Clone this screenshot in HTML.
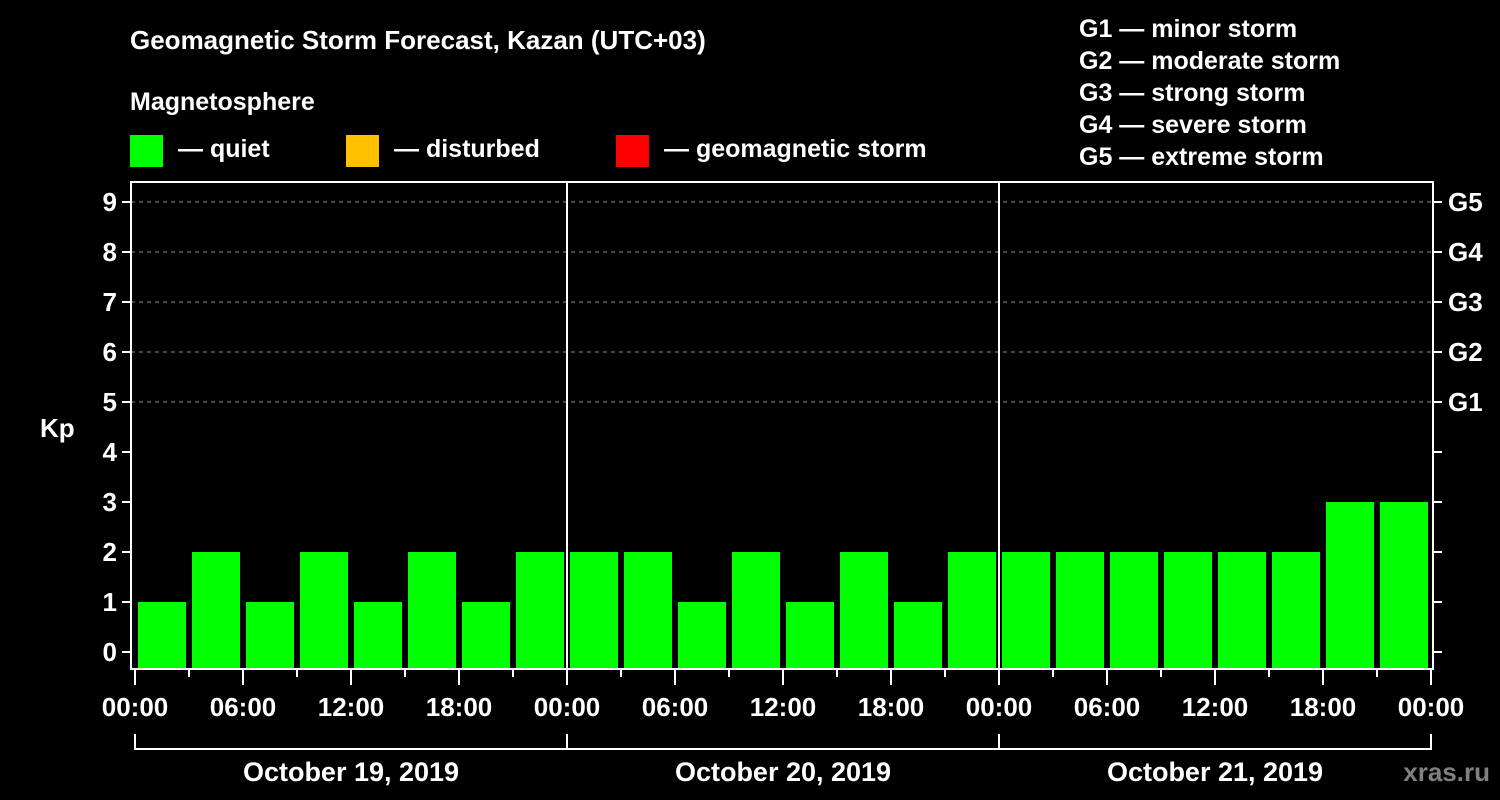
<!DOCTYPE html>
<html><head><meta charset="utf-8"><style>
html,body{margin:0;padding:0;background:#000;width:1500px;height:800px;overflow:hidden}
svg{display:block}
text{font-family:"Liberation Sans",Arial,sans-serif;font-weight:bold;fill:#fff}
</style></head><body>
<svg id="c" width="1500" height="800">
<text x="130" y="49" font-size="26">Geomagnetic Storm Forecast, Kazan (UTC+03)</text>
<text x="130" y="110" font-size="25">Magnetosphere</text>
<rect x="130" y="135" width="33" height="32" fill="#00ff00"/>
<text x="178" y="157" font-size="25">— quiet</text>
<rect x="346" y="135" width="33" height="32" fill="#ffc000"/>
<text x="394" y="157" font-size="25">— disturbed</text>
<rect x="616" y="135" width="33" height="32" fill="#ff0000"/>
<text x="664" y="157" font-size="25">— geomagnetic storm</text>
<g font-size="25">
<text x="1079" y="37">G1 — minor storm</text>
<text x="1079" y="69">G2 — moderate storm</text>
<text x="1079" y="101">G3 — strong storm</text>
<text x="1079" y="133">G4 — severe storm</text>
<text x="1079" y="165">G5 — extreme storm</text>
</g>
<text x="40" y="437" font-size="26">Kp</text>
<text x="1490" y="781" font-size="26" text-anchor="end" style="fill:#808080">xras.ru</text>
<g id="plot"></g>
</svg>
<script>
const kpValues=[1,2,1,2,1,2,1,2, 2,2,1,2,1,2,1,2, 2,2,2,2,2,2,3,3];
const dayLabels=["October 19, 2019","October 20, 2019","October 21, 2019"];
const timeLabels=["00:00","06:00","12:00","18:00"];
const gLabels=["G1","G2","G3","G4","G5"];
const yTicks=[0,1,2,3,4,5,6,7,8,9];
const X0=135,HOUR=18,Y0=652,UNIT=50,L=131,R=1433,T=182,B=669;
const xs=h=>X0+h*HOUR, ys=v=>Y0-v*UNIT;
const g=document.getElementById('plot');
const NS='http://www.w3.org/2000/svg';
function mk(t,a){const e=document.createElementNS(NS,t);for(const k in a)e.setAttribute(k,a[k]);g.appendChild(e);return e;}
// grid
for(let v=5;v<=9;v++){const e=mk('line',{x1:L,x2:R,y1:ys(v),y2:ys(v),stroke:'#888','stroke-dasharray':'4,4','stroke-width':1});

}
// bars
kpValues.forEach((v,i)=>{const x=xs(i*3)+3;const col=v>=5?'#ff0000':(v>=4?'#ffc000':'#00ff00');
const top=ys(v);const r=mk('rect',{x:x,y:top,width:48,height:B-top,fill:col});

});
// day separators
for(let d=1;d<3;d++){const e=mk('line',{x1:xs(d*24),x2:xs(d*24),y1:T,y2:B,stroke:'#fff','stroke-width':2});

}
// frame
const f=mk('rect',{x:L,y:T,width:R-L,height:B-T,fill:'none',stroke:'#fff','stroke-width':2});


// y ticks
yTicks.forEach(v=>{const y=ys(v);
const t=mk('line',{x1:L-9,x2:L,y1:y,y2:y,stroke:'#fff','stroke-width':2});


const t2=mk('line',{x1:R,x2:R+9,y1:y,y2:y,stroke:'#fff','stroke-width':2});


const tx=mk('text',{x:L-14,y:y+9,'font-size':26,'text-anchor':'end'});tx.textContent=v;

});
gLabels.forEach((s,i)=>{const tx=mk('text',{x:1448,y:ys(5+i)+9,'font-size':26});tx.textContent=s;

});
// x ticks
for(let h=0;h<=72;h+=3){const major=h%6===0;
const t=mk('line',{x1:xs(h),x2:xs(h),y1:B,y2:major?685:677,stroke:'#fff','stroke-width':2});


if(major){const tx=mk('text',{x:xs(h),y:716,'font-size':26,'text-anchor':'middle'});tx.textContent=timeLabels[(h/6)%4];

}}
// day bracket
const bl=mk('line',{x1:xs(0),x2:xs(72),y1:749,y2:749,stroke:'#fff','stroke-width':2});


for(let d=0;d<=3;d++){const e=mk('line',{x1:xs(d*24),x2:xs(d*24),y1:734,y2:750,stroke:'#fff','stroke-width':2});

}
dayLabels.forEach((s,d)=>{const tx=mk('text',{x:xs(d*24+12),y:781,'font-size':27,'text-anchor':'middle'});tx.textContent=s;

});
</script>
</body></html>
